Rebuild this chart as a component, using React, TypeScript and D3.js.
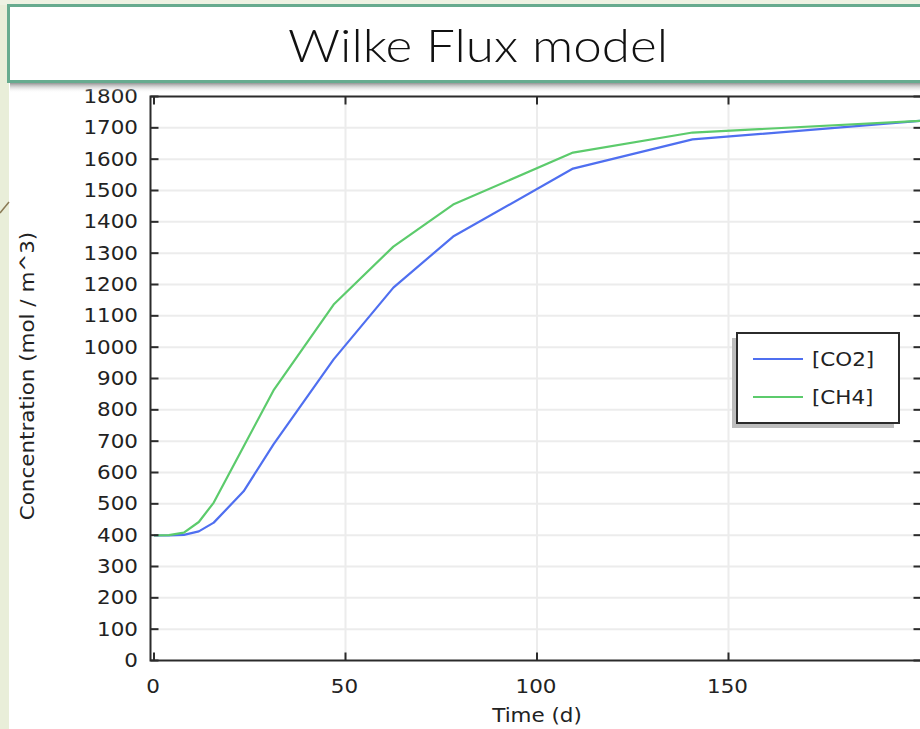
import React, { useEffect, useRef } from "react";
import * as d3 from "d3";

const times = [0, 3.9, 7.8, 11.7, 15.6, 23.4, 31.2, 46.9, 62.5, 78.1, 109.4, 140.6, 200];
const co2 = [399, 399, 401, 412, 440, 540, 690, 961, 1190, 1353, 1570, 1663, 1722];
const ch4 = [399, 400, 408, 442, 504, 683, 862, 1136, 1321, 1455, 1621, 1685, 1722];
const seriesNames = ["[CO2]", "[CH4]"];
const seriesColors = ["#4f6ff0", "#5ccb6c"];
const xTicks = [0, 50, 100, 150];
const yTicks = d3.range(0, 1801, 100);
const title = "Wilke Flux model";
const xLabel = "Time (d)";
const yLabel = "Concentration (mol / m^3)";

const W = 920;
const H = 729;

export default function App() {
  const ref = useRef<SVGSVGElement | null>(null);

  useEffect(() => {
    const svg = d3.select(ref.current);
    svg.selectAll("*").remove();

    const font = "'DejaVu Sans', sans-serif";
    const left = 150.5;
    const right = 921.5;
    const top = 96.5;
    const bottom = 660.5;

    const x = d3.scaleLinear().domain([0, 200]).range([154, 920]);
    const y = d3.scaleLinear().domain([0, 1800]).range([bottom, top]);

    // background
    svg.append("rect").attr("width", W).attr("height", H).attr("fill", "#ffffff");
    svg.append("rect").attr("x", 0).attr("y", 0).attr("width", 9).attr("height", H).attr("fill", "#e9eed9");
    svg.append("rect").attr("x", 0).attr("y", 0).attr("width", W).attr("height", 5).attr("fill", "#eef2e3");
    svg.append("line").attr("x1", 0).attr("y1", 213).attr("x2", 9).attr("y2", 202)
      .attr("stroke", "#8a7a55").attr("stroke-width", 1.5);

    const defs = svg.append("defs");
    const grad = defs.append("linearGradient").attr("id", "shadowGrad")
      .attr("x1", 0).attr("x2", 0).attr("y1", 0).attr("y2", 1);
    grad.append("stop").attr("offset", "0%").attr("stop-color", "#777777").attr("stop-opacity", 0.95);
    grad.append("stop").attr("offset", "100%").attr("stop-color", "#ffffff").attr("stop-opacity", 0);
    defs.append("clipPath").attr("id", "plotClip").append("rect")
      .attr("x", left).attr("y", top).attr("width", right - left).attr("height", bottom - top);

    // grid
    const g = svg.append("g");
    g.selectAll("line.hgrid").data(yTicks.filter(v => v > 0 && v < 1800)).enter().append("line")
      .attr("x1", left).attr("x2", right).attr("y1", d => y(d)).attr("y2", d => y(d))
      .attr("stroke", "#ececec").attr("stroke-width", 2);
    g.selectAll("line.vgrid").data(xTicks.filter(v => v > 0)).enter().append("line")
      .attr("x1", d => x(d)).attr("x2", d => x(d)).attr("y1", top).attr("y2", bottom)
      .attr("stroke", "#ececec").attr("stroke-width", 2);

    // lines
    const pts = (vals: number[]) => times.map((t, i) => [t, vals[i]] as [number, number]);
    const line = d3.line<[number, number]>().x(d => x(d[0])).y(d => y(d[1]));
    const plot = svg.append("g").attr("clip-path", "url(#plotClip)");
    [co2, ch4].forEach((vals, i) => {
      plot.append("path").attr("d", line(pts(vals)) as string)
        .attr("fill", "none").attr("stroke", seriesColors[i]).attr("stroke-width", 2.2)
        .attr("stroke-linejoin", "round");
    });

    // frame
    const axisColor = "#2b2b2b";
    svg.append("rect").attr("x", left).attr("y", top).attr("width", right - left).attr("height", bottom - top)
      .attr("fill", "none").attr("stroke", axisColor).attr("stroke-width", 2);

    // ticks
    const tl = 8;
    yTicks.forEach(v => {
      svg.append("line").attr("x1", left).attr("x2", left + tl).attr("y1", y(v)).attr("y2", y(v))
        .attr("stroke", axisColor).attr("stroke-width", 2);
      svg.append("line").attr("x1", right - tl).attr("x2", right).attr("y1", y(v)).attr("y2", y(v))
        .attr("stroke", axisColor).attr("stroke-width", 2);
      svg.append("text").attr("transform", `translate(138,${y(v)}) scale(1.1,1)`)
        .attr("text-anchor", "end").attr("dominant-baseline", "central")
        .attr("font-family", font).attr("font-size", 19.5).attr("fill", "#222").text(String(v));
    });
    xTicks.forEach(v => {
      svg.append("line").attr("x1", x(v)).attr("x2", x(v)).attr("y1", bottom).attr("y2", bottom - tl)
        .attr("stroke", axisColor).attr("stroke-width", 2);
      svg.append("line").attr("x1", x(v)).attr("x2", x(v)).attr("y1", top).attr("y2", top + tl)
        .attr("stroke", axisColor).attr("stroke-width", 2);
      svg.append("text").attr("transform", `translate(${x(v) - 1},${686}) scale(1.1,1)`)
        .attr("text-anchor", "middle").attr("dominant-baseline", "central")
        .attr("font-family", font).attr("font-size", 19.5).attr("fill", "#222").text(String(v));
    });

    // axis labels
    svg.append("text").attr("transform", `translate(537,715) scale(1.1,1)`)
      .attr("text-anchor", "middle").attr("dominant-baseline", "central")
      .attr("font-family", font).attr("font-size", 19.5).attr("fill", "#222").text(xLabel);
    svg.append("text").attr("transform", `translate(27,376) rotate(-90) scale(1.1,1)`)
      .attr("text-anchor", "middle").attr("dominant-baseline", "central")
      .attr("font-family", font).attr("font-size", 19.5).attr("fill", "#222").text(yLabel);

    // legend
    const lx = 737, ly = 333, lw = 162, lh = 90;
    svg.append("rect").attr("x", lx - 5).attr("y", ly + 5).attr("width", lw).attr("height", lh)
      .attr("fill", "#bdbdbd");
    svg.append("rect").attr("x", lx).attr("y", ly).attr("width", lw).attr("height", lh)
      .attr("fill", "#ffffff").attr("stroke", "#2b2b2b").attr("stroke-width", 2);
    seriesNames.forEach((name, i) => {
      const yy = ly + 26 + i * 38;
      svg.append("line").attr("x1", lx + 16).attr("x2", lx + 66).attr("y1", yy).attr("y2", yy)
        .attr("stroke", seriesColors[i]).attr("stroke-width", 2.2);
      svg.append("text").attr("transform", `translate(${lx + 75},${yy}) scale(1.1,1)`)
        .attr("dominant-baseline", "central")
        .attr("font-family", font).attr("font-size", 19.5).attr("fill", "#222").text(name);
    });

    // title box
    svg.append("rect").attr("x", 10).attr("y", 82).attr("width", W).attr("height", 11)
      .attr("fill", "url(#shadowGrad)");
    svg.append("rect").attr("x", 8.5).attr("y", 5.5).attr("width", W + 10).attr("height", 76)
      .attr("fill", "#ffffff").attr("stroke", "#67ab8f").attr("stroke-width", 3);
    svg.append("text").attr("x", 478).attr("y", 62).attr("text-anchor", "middle")
      .attr("font-family", "Lato, 'Noto Sans', sans-serif").attr("font-weight", 300).attr("font-size", 46)
      .attr("textLength", 380).attr("lengthAdjust", "spacingAndGlyphs")
      .attr("fill", "#111").text(title);
  }, []);

  return (
    <svg ref={ref} width={W} height={H}
      style={{ position: "absolute", left: 0, top: 0, display: "block" }} />
  );
}
